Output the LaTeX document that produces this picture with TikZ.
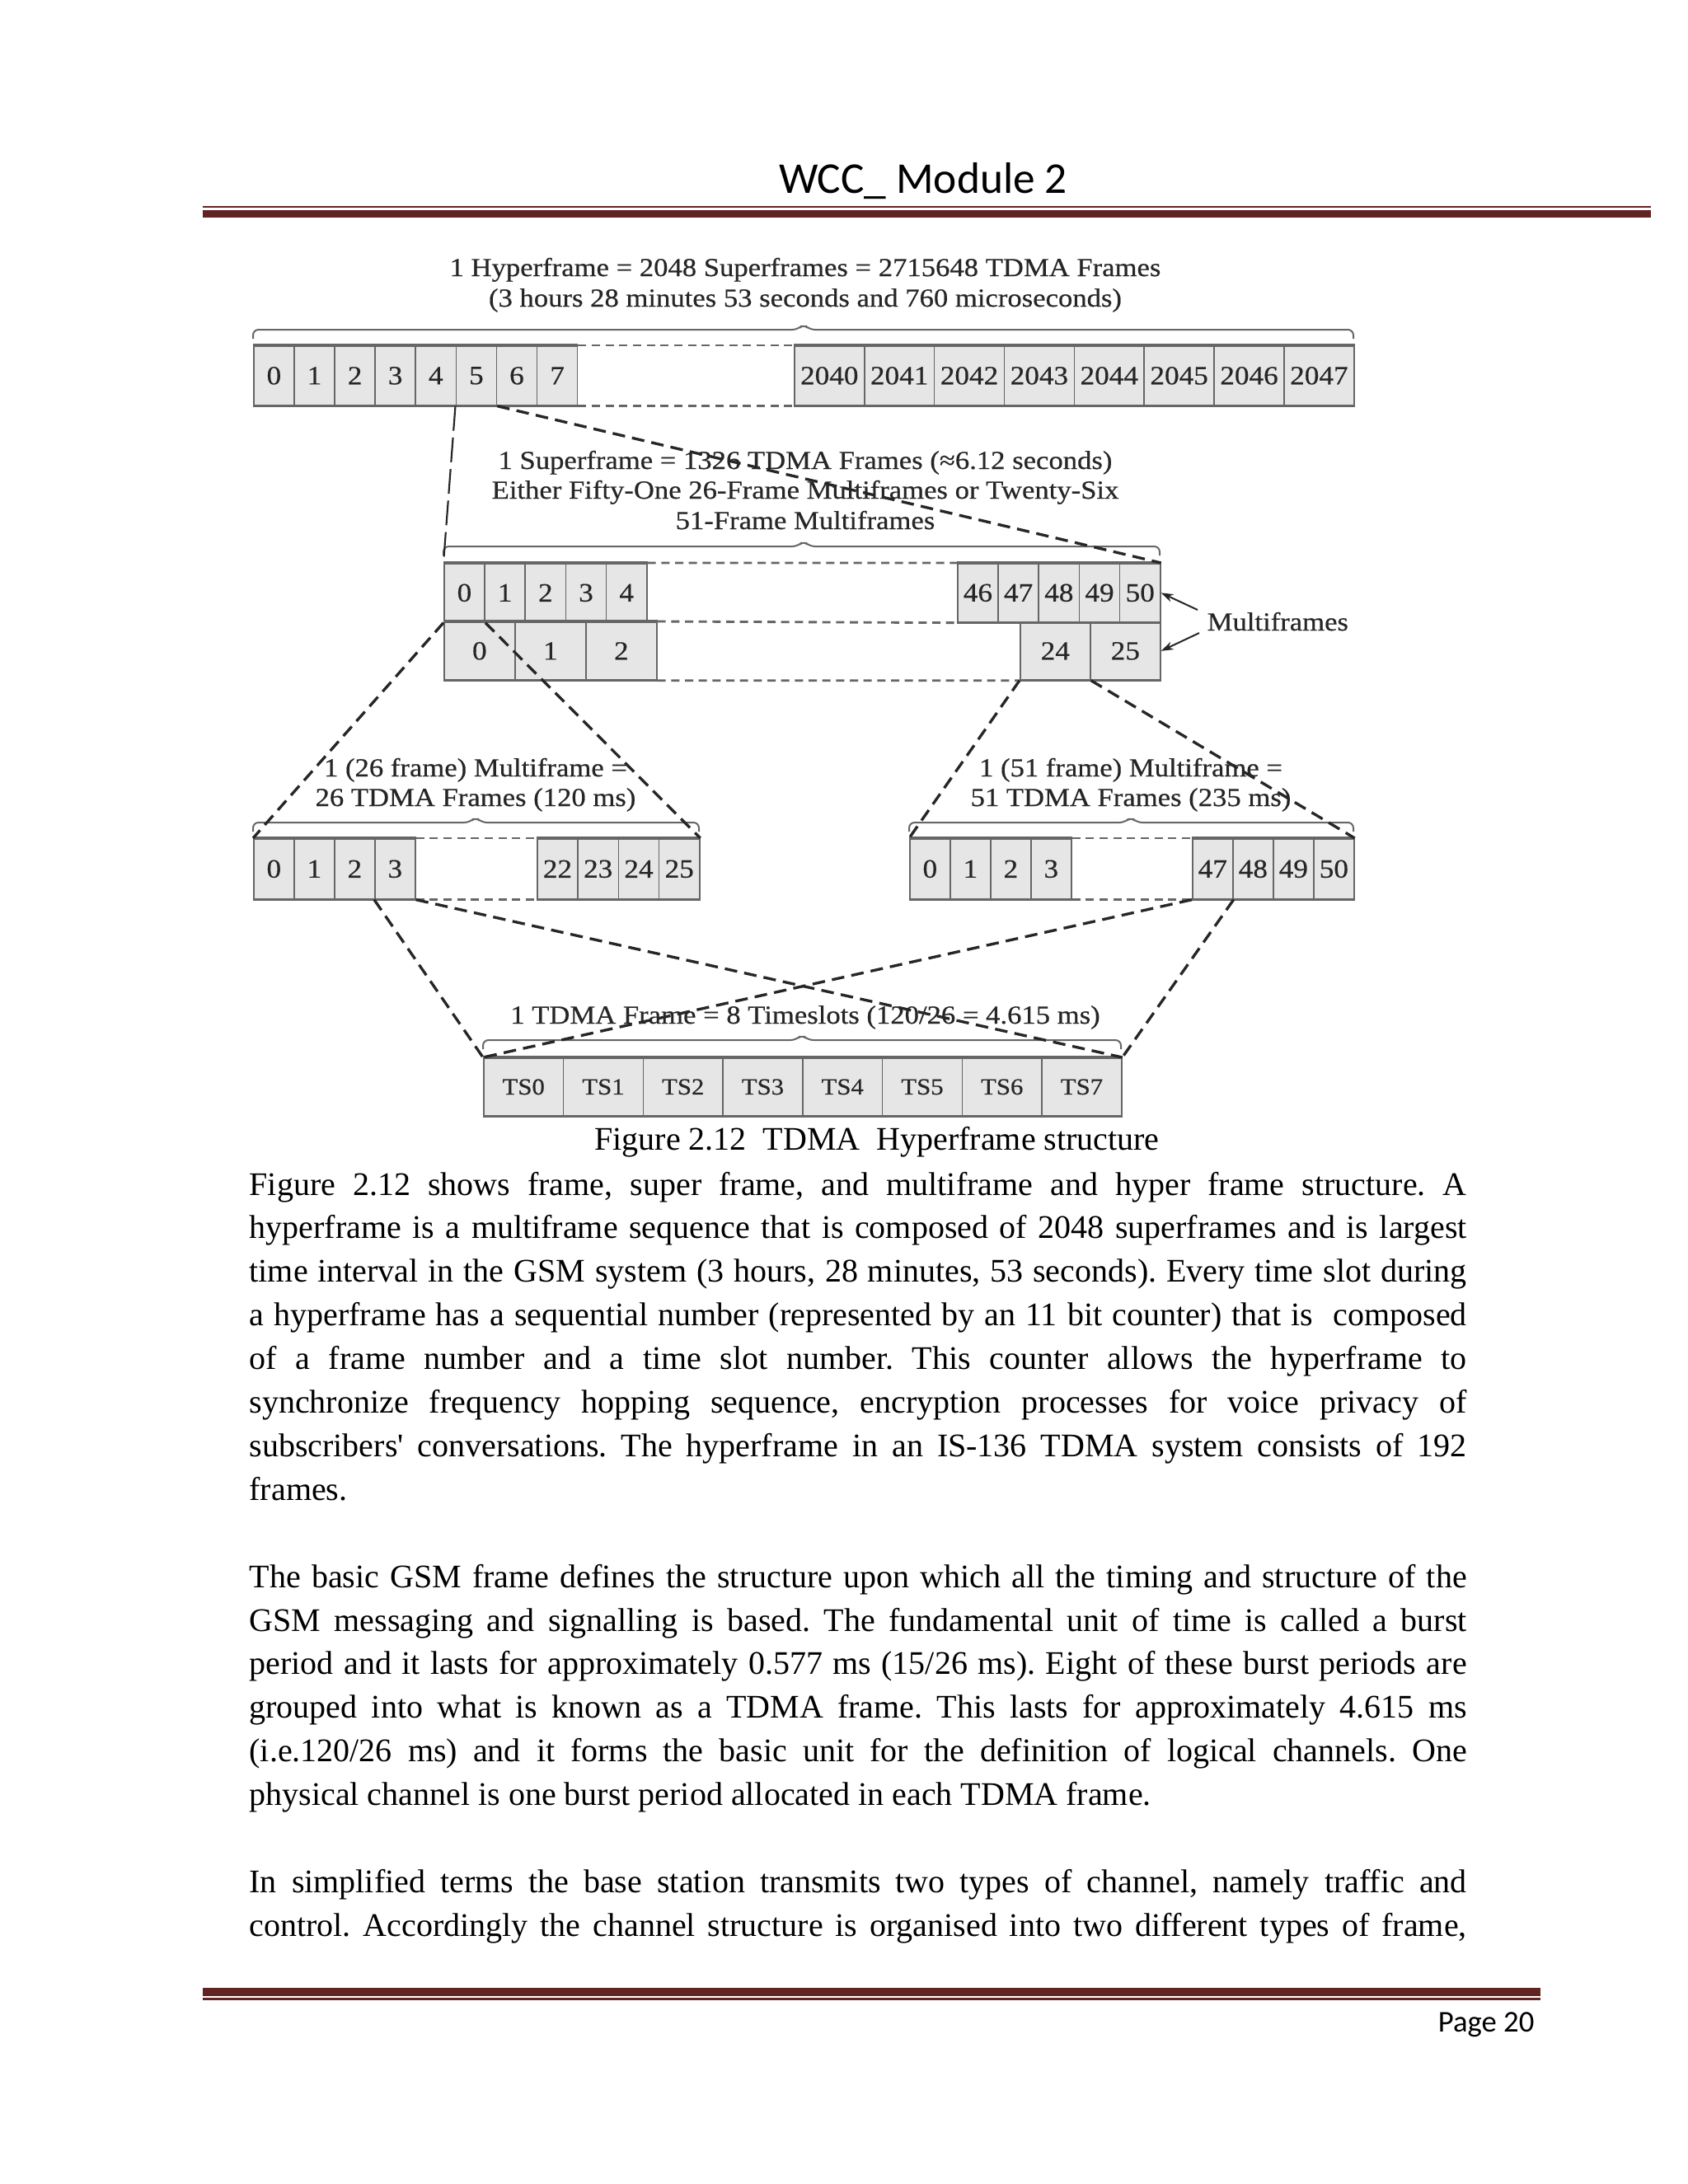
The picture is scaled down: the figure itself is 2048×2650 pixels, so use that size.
\documentclass[tikz,border=0pt]{standalone}
\usepackage{fontspec}
\setmainfont{Liberation Serif}
\newfontfamily\bodyfont{Liberation Serif}
\newfontfamily\hdrfont{Carlito}
\newfontfamily\figfont{Liberation Serif}[FakeStretch=1.1,FakeBold=0.5]
\usetikzlibrary{calc,arrows.meta}
\definecolor{maroon}{HTML}{622423}
\definecolor{cellfill}{HTML}{E6E6E6}
\definecolor{celledge}{HTML}{666666}
\definecolor{figink}{HTML}{262626}
\newcommand\fbrace[4]{% x0, x1, y, xc
  \draw[brace] (#1,#3+11) -- (#1,#3) -- (#4-7,#3) -- (#4,#3-7) -- (#4+7,#3) -- (#2,#3) -- (#2,#3+11);}
\begin{document}
\begin{tikzpicture}[x=0.3pt,y=-0.3pt,
  cell/.style={draw=celledge, line width=0.5pt, fill=cellfill, inner sep=0pt, anchor=north west,
    font=\figfont\fontsize{9.6}{11}\selectfont, text=figink},
  tscell/.style={font=\figfont\fontsize{8.4}{10}\selectfont},
  edge/.style={draw=celledge, line width=1pt},
  gap/.style={draw=celledge, line width=0.85pt, dash pattern=on 3pt off 2pt},
  conn/.style={draw=black!85, line width=1pt, dash pattern=on 4.6pt off 2.6pt},
  longconn/.style={draw=black!85, line width=0.65pt, dash pattern=on 9pt off 2.5pt},
  brace/.style={draw=celledge, line width=0.6pt, rounded corners=2pt},
  lbl/.style={font=\figfont\fontsize{9.45}{11}\selectfont, text=figink, inner sep=0pt, anchor=base},
  arr/.style={draw=figink, line width=0.6pt, -{Stealth[length=4.5pt,width=3pt]}},
  body/.style={font=\bodyfont\fontsize{12}{14}\selectfont\frenchspacing, inner sep=0pt, anchor=base west},
]
\fill[white] (0,0) rectangle (2048,2650);
\useasboundingbox (0,0) rectangle (2048,2650);

% ---------- header / footer ----------
\node[font=\hdrfont\fontsize{16}{19}\selectfont, anchor=base, inner sep=0pt] (hdr) at (1120,234) {WCC\_ Module 2};
\fill[maroon] (246,249.5) rectangle (2003,251.8);
\fill[maroon] (246,255) rectangle (2003,264);
\fill[maroon] (246,2412) rectangle (1869,2422);
\fill[maroon] (246,2424.2) rectangle (1869,2426.5);
\node[font=\hdrfont\fontsize{11}{13}\selectfont, anchor=base east, inner sep=0pt] (pg) at (1862,2465) {Page 20};

% ---------- hyperframe row ----------
\foreach \t [count=\i from 0] in {0,...,7}
  \node[cell, minimum width=49.1*0.3pt, minimum height=72*0.3pt] (h\t) at ({307+49.1*\i},419) {\t};
\foreach \t [count=\i from 0] in {2040,...,2047}
  \node[cell, minimum width=84.875*0.3pt, minimum height=72*0.3pt] (h\t) at ({963+84.875*\i},419) {\t};
\draw[edge] (h0.north west) -- (h7.north east) (h0.south west) -- (h7.south east)
  (h2040.north west) -- (h2047.north east) (h2040.south west) -- (h2047.south east);
\draw[gap] (h7.north east) -- (h2040.north west) (h7.south east) -- (h2040.south west);

% ---------- superframe rows ----------
\foreach \t [count=\i from 0] in {0,...,4}
  \node[cell, minimum width=49.2*0.3pt, minimum height=71*0.3pt] (sa\t) at ({538+49.2*\i},683) {\t};
\foreach \t [count=\i from 0] in {46,...,50}
  \node[cell, minimum width=49.2*0.3pt, minimum height=71*0.3pt] (sa\t) at ({1161+49.2*\i},683) {\t};
\foreach \t [count=\i from 0] in {0,1,2}
  \node[cell, minimum width=86*0.3pt, minimum height=70*0.3pt] (sb\t) at ({538+86*\i},754) {\t};
\foreach \t [count=\i from 0] in {24,25}
  \node[cell, minimum width=85*0.3pt, minimum height=70*0.3pt] (sb\t) at ({1237+85*\i},754) {\t};
\draw[edge] (sa0.north west) -- (sa4.north east) (sa46.north west) -- (sa50.north east)
  (sb0.north west) -- (sb2.north east) (sa46.south west) -- (sa50.south east)
  (sb0.south west) -- (sb2.south east) (sb24.south west) -- (sb25.south east);
\draw[gap] (sa4.north east) -- (sa46.north west) (sb2.north east) -- (sa46.south west)
  (sb2.south east) -- (sb24.south west);

% ---------- multiframe rows ----------
\foreach \t [count=\i from 0] in {0,...,3}
  \node[cell, minimum width=49*0.3pt, minimum height=73*0.3pt] (l\t) at ({307+49*\i},1017) {\t};
\foreach \t [count=\i from 0] in {22,...,25}
  \node[cell, minimum width=49.25*0.3pt, minimum height=73*0.3pt] (l\t) at ({651+49.25*\i},1017) {\t};
\foreach \t [count=\i from 0] in {0,...,3}
  \node[cell, minimum width=49*0.3pt, minimum height=73*0.3pt] (r\t) at ({1103+49*\i},1017) {\t};
\foreach \t [count=\i from 0] in {47,...,50}
  \node[cell, minimum width=49*0.3pt, minimum height=73*0.3pt] (r\t) at ({1446+49*\i},1017) {\t};
\draw[edge] (l0.north west) -- (l3.north east) (l0.south west) -- (l3.south east)
  (l22.north west) -- (l25.north east) (l22.south west) -- (l25.south east)
  (r0.north west) -- (r3.north east) (r0.south west) -- (r3.south east)
  (r47.north west) -- (r50.north east) (r47.south west) -- (r50.south east);
\draw[gap] (l3.north east) -- (l22.north west) (l3.south east) -- (l22.south west)
  (r3.north east) -- (r47.north west) (r3.south east) -- (r47.south west);

% ---------- TDMA frame row ----------
\foreach \i in {0,...,7}
  \node[cell, tscell, minimum width=96.75*0.3pt, minimum height=70*0.3pt] (ts\i) at ({586+96.75*\i},1283) {TS\i};
\draw[edge] (ts0.north west) -- (ts7.north east) (ts0.south west) -- (ts7.south east);

% ---------- braces ----------
\fbrace{307}{1642}{400}{975}
\fbrace{538}{1407}{663}{975}
\fbrace{307}{848}{998}{577}
\fbrace{1103}{1642}{998}{1372}
\fbrace{586}{1360}{1262}{973}

% ---------- labels ----------
\node[lbl] (t1) at (977,335) {1 Hyperframe = 2048 Superframes = 2715648 TDMA Frames};
\node[lbl] (t2) at (977,372) {(3 hours 28 minutes 53 seconds and 760 microseconds)};
\node[lbl] (s1) at (977,569) {1 Superframe = 1326 TDMA Frames (≈6.12 seconds)};
\node[lbl] (s2) at (977,605) {Either Fifty-One 26-Frame Multiframes or Twenty-Six};
\node[lbl] (s3) at (977,642) {51-Frame Multiframes};
\node[lbl] (lt1) at (577,942) {1 (26 frame) Multiframe =};
\node[lbl] (lt2) at (577,978) {26 TDMA Frames (120 ms)};
\node[lbl] (rt1) at (1372,942) {1 (51 frame) Multiframe =};
\node[lbl] (rt2) at (1372,978) {51 TDMA Frames (235 ms)};
\node[lbl] (tt) at (977,1242) {1 TDMA Frame = 8 Timeslots (120/26 = 4.615 ms)};
\node[lbl, anchor=base west] (mf) at (1464,765) {Multiframes};

% ---------- connectors ----------
\draw[longconn] (h5.south west) -- (sa0.north west);
\draw[conn] (h5.south east) -- (sa50.north east);
\draw[conn] (sa0.south west) -- (l0.north west);
\draw[conn] (sa0.south east) -- (l25.north east);
\draw[conn] (sb24.south west) -- (r0.north west);
\draw[conn] (sb24.south east) -- (r50.north east);
\draw[conn] (l3.south west) -- (ts0.north west);
\draw[conn] (l3.south east) -- (ts7.north east);
\draw[conn] (r47.south west) -- (ts0.north west);
\draw[conn] (r47.south east) -- (ts7.north east);
\coordinate (mfa) at (1453,740);
\coordinate (mfb) at (1455,768);
\draw[arr] (mfa) -- (sa50.east);
\draw[arr] (mfb) -- (sb25.east);

% ---------- caption and body text ----------
\node[font=\bodyfont\fontsize{12}{14}\selectfont, inner sep=0pt, anchor=base] (cap) at (1064,1395) {Figure 2.12\ \ TDMA\ \ Hyperframe structure};

\node[body] (a1) at (302,1450) {\makebox[443.1pt][s]{Figure 2.12 shows frame, super frame, and multiframe and hyper frame structure. A}};
\node[body] (a2) at (302,1502.9) {\makebox[443.1pt][s]{hyperframe is a multiframe sequence that is composed of 2048 superframes and is largest}};
\node[body] (a3) at (302,1555.8) {\makebox[443.1pt][s]{time interval in the GSM system (3 hours, 28 minutes, 53 seconds). Every time slot during}};
\node[body] (a4) at (302,1608.7) {\makebox[443.1pt][s]{a hyperframe has a sequential number (represented by an 11 bit counter) that is\ \ composed}};
\node[body] (a5) at (302,1661.6) {\makebox[443.1pt][s]{of a frame number and a time slot number. This counter allows the hyperframe to}};
\node[body] (a6) at (302,1714.5) {\makebox[443.1pt][s]{synchronize frequency hopping sequence, encryption processes for voice privacy of}};
\node[body] (a7) at (302,1767.4) {\makebox[443.1pt][s]{subscribers' conversations. The hyperframe in an IS-136 TDMA system consists of 192}};
\node[body] (a8) at (302,1820.3) {frames.};

\node[body] (b1) at (302,1926.1) {\makebox[443.1pt][s]{The basic GSM frame defines the structure upon which all the timing and structure of the}};
\node[body] (b2) at (302,1979) {\makebox[443.1pt][s]{GSM messaging and signalling is based. The fundamental unit of time is called a burst}};
\node[body] (b3) at (302,2031.9) {\makebox[443.1pt][s]{period and it lasts for approximately 0.577 ms (15/26 ms). Eight of these burst periods are}};
\node[body] (b4) at (302,2084.8) {\makebox[443.1pt][s]{grouped into what is known as a TDMA frame. This lasts for approximately 4.615 ms}};
\node[body] (b5) at (302,2137.7) {\makebox[443.1pt][s]{(i.e.120/26 ms) and it forms the basic unit for the definition of logical channels. One}};
\node[body] (b6) at (302,2190.6) {physical channel is one burst period allocated in each TDMA frame.};

\node[body] (c1) at (302,2296.4) {\makebox[443.1pt][s]{In simplified terms the base station transmits two types of channel, namely traffic and}};
\node[body] (c2) at (302,2349.3) {\makebox[443.1pt][s]{control. Accordingly the channel structure is organised into two different types of frame,}};
\end{tikzpicture}
\end{document}
